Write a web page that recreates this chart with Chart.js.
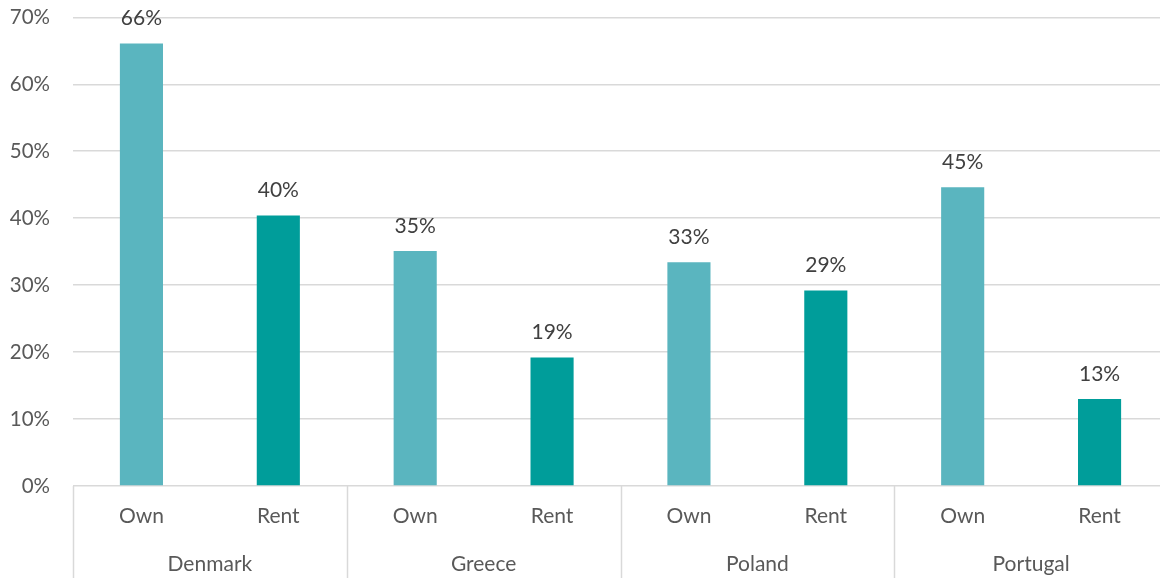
<!DOCTYPE html>
<html>
<head>
<meta charset="utf-8">
<script src="https://cdn.jsdelivr.net/npm/chart.js@4/dist/chart.umd.min.js"></script>
<style>
  html, body { margin: 0; padding: 0; background: #fff; overflow: hidden; }
  #wrap { width: 1168px; height: 596px; margin-top: -18px; }
</style>
</head>
<body>
<div id="wrap"><canvas id="chart"></canvas></div>
<script>
const countries = ['Denmark', 'Greece', 'Poland', 'Portugal'];
const tenure = ['Own', 'Rent'];
const ownShare = [66.1, 35.1, 33.4, 44.6];
const rentShare = [40.4, 19.2, 29.2, 13.0];
const yTicks = [0, 10, 20, 30, 40, 50, 60, 70];

const OWN_COLOR = '#5AB5BF';
const RENT_COLOR = '#009D9A';
const GRID = '#D9D9D9';
const FONT = 'Lato, "Open Sans", sans-serif';

// one bar per (country, tenure) pair, in axis order
const labels = [];
const values = [];
const colors = [];
countries.forEach((c, i) => {
  labels.push(tenure[0]); values.push(ownShare[i]); colors.push(OWN_COLOR);
  labels.push(tenure[1]); values.push(rentShare[i]); colors.push(RENT_COLOR);
});

// percentage labels over each bar
const valueLabels = {
  id: 'valueLabels',
  afterDatasetsDraw(chart) {
    const ctx = chart.ctx;
    const meta = chart.getDatasetMeta(0);
    ctx.save();
    ctx.font = '21px ' + FONT;
    ctx.fillStyle = '#404040';
    ctx.textAlign = 'center';
    ctx.textBaseline = 'middle';
    meta.data.forEach((bar, i) => {
      const v = chart.data.datasets[0].data[i];
      ctx.fillText(Math.round(v) + '%', bar.x, bar.y - 25);
    });
    ctx.restore();
  }
};

// vertical separators between country groups below the plot
const groupLines = {
  id: 'groupLines',
  afterDraw(chart) {
    const ctx = chart.ctx;
    const x2 = chart.scales.x2;
    const half = (x2.right - x2.left) / countries.length / 2;
    ctx.save();
    ctx.strokeStyle = GRID;
    ctx.lineWidth = 1.5;
    for (let i = 0; i < countries.length; i++) {
      const x = Math.round(x2.getPixelForTick(i) - half) + 0.5;
      ctx.beginPath();
      ctx.moveTo(x, chart.chartArea.bottom);
      ctx.lineTo(x, chart.height);
      ctx.stroke();
    }
    ctx.restore();
  }
};

const tickFont = { family: FONT, size: 21 };

new Chart(document.getElementById('chart'), {
  type: 'bar',
  data: {
    labels: labels,
    datasets: [{
      data: values,
      backgroundColor: colors,
      borderWidth: 0,
      barPercentage: 0.315,
      categoryPercentage: 1
    }]
  },
  options: {
    responsive: true,
    maintainAspectRatio: false,
    animation: false,
    layout: { padding: { top: 8, left: 0, right: 0, bottom: 0 } },
    plugins: {
      legend: { display: false },
      tooltip: { enabled: false }
    },
    scales: {
      x: {
        grid: { display: false, drawTicks: false },
        border: { display: false },
        ticks: { color: '#595959', font: tickFont, padding: 18 },
        afterFit(scale) { scale.height = 46; }
      },
      x2: {
        type: 'category',
        labels: countries,
        offset: true,
        position: 'bottom',
        grid: { display: false, drawTicks: false },
        border: { display: false },
        ticks: { color: '#595959', font: tickFont, padding: 20 },
        afterFit(scale) { scale.height = 46; }
      },
      y: {
        min: 0,
        max: 70,
        afterBuildTicks(scale) { scale.ticks = yTicks.map(v => ({ value: v })); },
        afterFit(scale) { scale.width = 73; },
        grid: { color: GRID, lineWidth: 1.5, drawTicks: false },
        border: { display: false },
        ticks: {
          color: '#595959',
          font: { family: FONT, size: 20.5 },
          padding: 23,
          callback: v => v + '%'
        }
      }
    }
  },
  plugins: [valueLabels, groupLines]
});
</script>
</body>
</html>
